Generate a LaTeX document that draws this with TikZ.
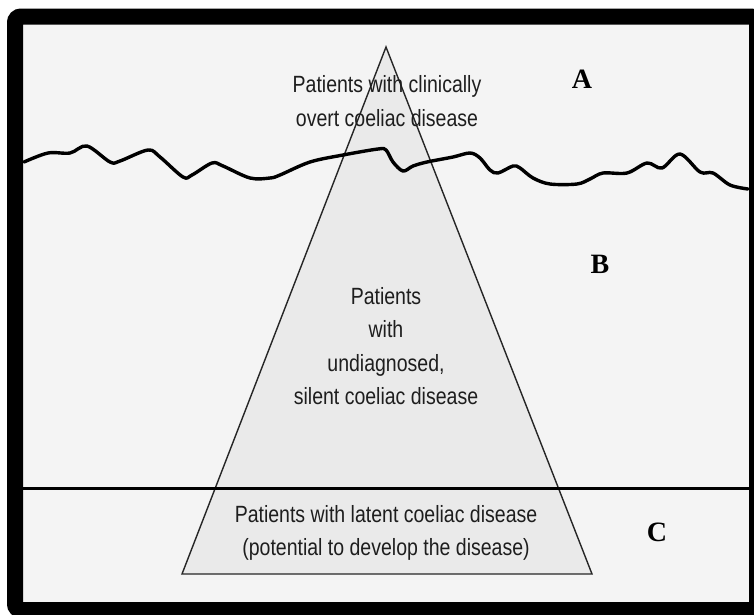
\documentclass[tikz,border=0pt]{standalone}
\usepackage{fontspec}
\usepackage{tikz}
\usetikzlibrary{positioning}
\newfontfamily\narrowsans{Liberation Sans}[FakeStretch=0.83]
\newfontfamily\labelserif{Liberation Serif}
\definecolor{paper}{HTML}{F4F4F4}
\definecolor{berg}{HTML}{EAEAEA}
\definecolor{inkgray}{HTML}{1E1E1E}

\begin{document}
\begin{tikzpicture}[
    x=1pt, y=-1pt,
    bergtext/.style = {align=center, text=inkgray, inner sep=0pt, font=\narrowsans\fontsize{23.5}{33.5}\selectfont},
    zone/.style = {inner sep=0pt, text=black, font=\labelserif\bfseries\fontsize{28}{28}\selectfont},
    bergline/.style = {draw=black!85, line width=1.4pt, fill=berg, line join=miter},
    waterline/.style = {draw=black, line width=3.4pt, line cap=round, line join=round},
    seabed/.style = {draw=black, line width=3pt}
]
\useasboundingbox (0,0) rectangle (754,614);

% Background and frame corners
\fill[white] (0,0) rectangle (754,614);
\fill[paper] (15,16) rectangle (757,610);
\coordinate (bl) at (23,488);
\coordinate (br) at (749,488);

% Iceberg
\coordinate (apex) at (386,47);
\coordinate (baseL) at (182,574);
\coordinate (baseR) at (592,574);
\draw [bergline] (apex) -- (baseR) -- (baseL) -- cycle;

% Water surface
\draw [waterline] plot[smooth, tension=0.55] coordinates {
    (24,162) (48,153) (70,153) (87,146) (110,162) (120,161) (148,150) (160,157)
    (183,177) (192,175) (212,163) (223,166) (250,178) (270,178) (280,175) (310,162)
    (343,155) (378,149) (386,150) (393,162) (403,171) (413,166) (427,162) (453,157)
    (470,153) (480,158) (490,170) (498,173) (513,166) (520,168) (533,178) (550,184)
    (577,184) (590,179) (603,173) (627,173) (647,163) (662,168) (680,154) (700,172)
    (713,173) (730,185) (748,189)};

% Latent level
\draw [seabed] (bl) -- (br);

% Frame
\draw [line width=16pt, rounded corners=6pt] (15,16.5) rectangle (757,610);

% Texts
\node (overt) [bergtext, at={(387,101)}] {Patients with clinically\\overt coeliac disease};
\node (silent) [bergtext, at={(386,346)}] {Patients\\with\\undiagnosed,\\silent coeliac disease};
\node (latent) [bergtext, at={(386,533)}] {Patients with latent coeliac disease\\(potential to develop the disease)};

% Zone labels
\node (zoneA) [zone, at={(582,79)}] {A};
\node (zoneB) [zone, at={(600,264)}] {B};
\node (zoneC) [zone, at={(657,532)}] {C};

\end{tikzpicture}
\end{document}
